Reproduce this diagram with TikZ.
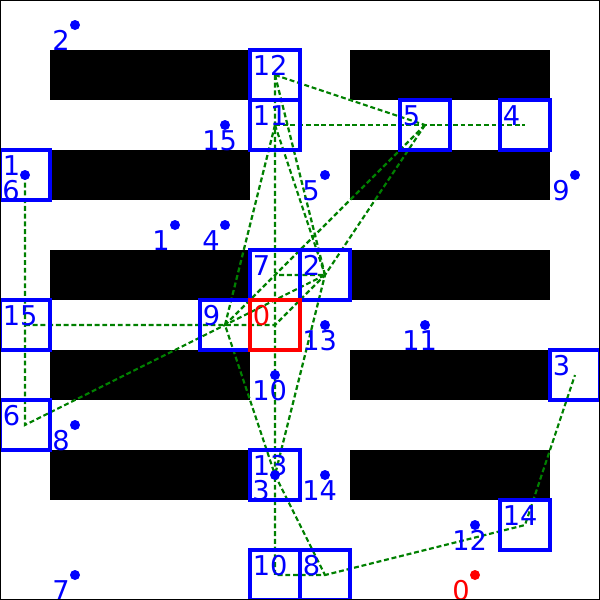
\documentclass[tikz,border=0pt]{standalone}
\usepackage{fontspec}
\setmainfont{DejaVu Sans}
\usetikzlibrary{backgrounds}
\definecolor{routegreen}{RGB}{0,128,0}

\begin{document}
\begin{tikzpicture}[x=1cm,y=-1cm,
  lbl/.style={font=\fontsize{15.5}{18}\selectfont,inner sep=0pt,anchor=north west},
  goal/.style={draw=#1,line width=2pt,minimum size=1cm,inner sep=0pt},
  agent/.style={circle,fill=#1,minimum size=0.2cm,inner sep=0pt},
  route/.style={routegreen,line width=1.25pt,dash pattern=on 2.8pt off 1.6pt}]
\useasboundingbox (0,0) rectangle (12,12);
% ---- goal cells ----
\foreach \n/\p in {12/{5.5,1.5},11/{5.5,2.5},5/{8.5,2.5},4/{10.5,2.5},1/{0.5,3.5},
  7/{5.5,5.5},2/{6.5,5.5},15/{0.5,6.5},9/{4.5,6.5},3/{11.5,7.5},6/{0.5,8.5},
  13/{5.5,9.5},14/{10.5,10.5},10/{5.5,11.5},8/{6.5,11.5}}
  {\node[goal=blue] (g\n) at (\p) {};
   \node[lbl,blue] (gl\n) at ([shift={(-0.45,-0.4)}]g\n.center) {\n};}
\node[goal=red] (g0) at (5.5,6.5) {};
\node[lbl,red] (gl0) at ([shift={(-0.45,-0.4)}]g0.center) {0};
% ---- agents ----
\foreach \n/\p in {2/{1.5,0.5},15/{4.5,2.5},6/{0.5,3.5},5/{6.5,3.5},9/{11.5,3.5},
  1/{3.5,4.5},4/{4.5,4.5},13/{6.5,6.5},11/{8.5,6.5},10/{5.5,7.5},8/{1.5,8.5},
  3/{5.5,9.5},14/{6.5,9.5},12/{9.5,10.5},7/{1.5,11.5}}
  {\node[agent=blue] (a\n) at (\p) {};
   \node[lbl,blue] (al\n) at ([shift={(-0.46,0.1)}]a\n.center) {\n};}
\node[agent=red] (a0) at (9.5,11.5) {};
\node[lbl,red] (al0) at ([shift={(-0.46,0.1)}]a0.center) {0};
\begin{scope}[on background layer]
% ---- shelves ----
\foreach \r in {1,3,5,7,9} {\fill (1,\r) rectangle (5,\r+1); \fill (7,\r) rectangle (11,\r+1);}
% ---- routes ----
\draw[route] (g1.center) -- (g6.center) -- (g2.center) -- (g7.center);
\draw[route] (g15.center) -- (g0.center) -- (g2.center);
\draw[route] (g12.center) -- (g5.center);
\draw[route] (g12.center) -- (g2.center);
\draw[route] (g11.center) -- (g2.center);
\draw[route] (g11.center) -- (g4.center);
\draw[route] (g11.center) -- (g9.center) -- (g13.center);
\draw[route] (g5.center) -- (g9.center);
\draw[route] (g5.center) -- (g2.center) -- (g13.center);
\draw[route] (g13.center) -- (g8.center);
\draw[route] (g12.center) -- (g10.center) -- (g8.center) -- (g14.center) -- (g3.center);
\end{scope}
% ---- frame ----
\draw[line width=1.2pt] (0,0) rectangle (12,12);
\end{tikzpicture}
\end{document}
